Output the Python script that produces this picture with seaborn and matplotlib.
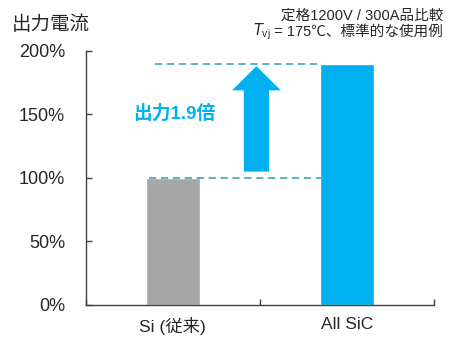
import matplotlib
matplotlib.use("Agg")
import matplotlib.pyplot as plt
import seaborn as sns
import pandas as pd

# データ
categories = ["Si (従来)", "All SiC"]
output_current = [100, 190]
bar_colors = ["#a6a6a6", "#00b0f0"]
yticks = [0, 50, 100, 150, 200]
ytick_labels = ["0%", "50%", "100%", "150%", "200%"]

df = pd.DataFrame({"category": categories, "value": output_current})

sns.set_style("white")
plt.rcParams["font.family"] = ["Liberation Sans", "Noto Sans CJK JP", "DejaVu Sans"]

fig = plt.figure(figsize=(4.54, 3.57), dpi=100)
ax = fig.add_axes([0.189, 0.1457, 0.767, 0.7115])

sns.barplot(data=df, x="category", y="value", hue="category",
            palette=bar_colors, width=0.31, saturation=1, legend=False, ax=ax)

ax.set_xlim(-0.5, 1.5)
ax.set_ylim(0, 200)
ax.set_xlabel("")
ax.set_ylabel("")
ax.set_yticks(yticks)
ax.set_yticklabels(ytick_labels, fontsize=13)
ax.tick_params(axis="y", left=True, direction="in", length=4, width=1, color="#404040", pad=15)
ax.tick_params(axis="x", bottom=True, length=0, labelsize=12.5, pad=9)
ax.set_xticks([-0.5, 0.5, 1.5], minor=True)
ax.tick_params(axis="x", which="minor", bottom=True, direction="in", length=4, width=1, color="#404040")
for s in ["top", "right"]:
    ax.spines[s].set_visible(False)
for s in ["left", "bottom"]:
    ax.spines[s].set_color("#404040")
    ax.spines[s].set_linewidth(1)

# 破線
dash_color = "#4bacc6"
ax.plot([-0.1, 0.83], [output_current[1]] * 2, ls=(0, (4, 2.6)), color=dash_color, lw=1.3)
ax.plot([-0.135, 0.87], [output_current[0]] * 2, ls=(0, (4, 2.6)), color=dash_color, lw=1.3)

# 矢印
ax.arrow(0.48, 105, 0, 83, width=0.145, head_width=0.28, head_length=19,
         length_includes_head=True, color="#00b0f0", lw=0)
ax.text(0.01, 151, "出力1.9倍", color="#00b0f0", fontsize=13.5, fontweight="bold",
        ha="center", va="center")

fig.text(0.026, 0.93, "出力電流", fontsize=14, ha="left", va="center", color="#262626")
fig.text(0.976, 0.955, "定格1200V / 300A品比較", fontsize=10.5, ha="right", va="center", color="#262626")
t2 = fig.text(0.976, 0.91, " = 175℃、標準的な使用例", fontsize=10.5,
              ha="right", va="center", color="#262626")
ax.annotate(r"$T_\mathregular{vj}$", xy=(0, 0.5), xycoords=t2, ha="right", va="center",
            fontsize=10.5, color="#262626", annotation_clip=False)

fig.savefig("out.png", dpi=100)
